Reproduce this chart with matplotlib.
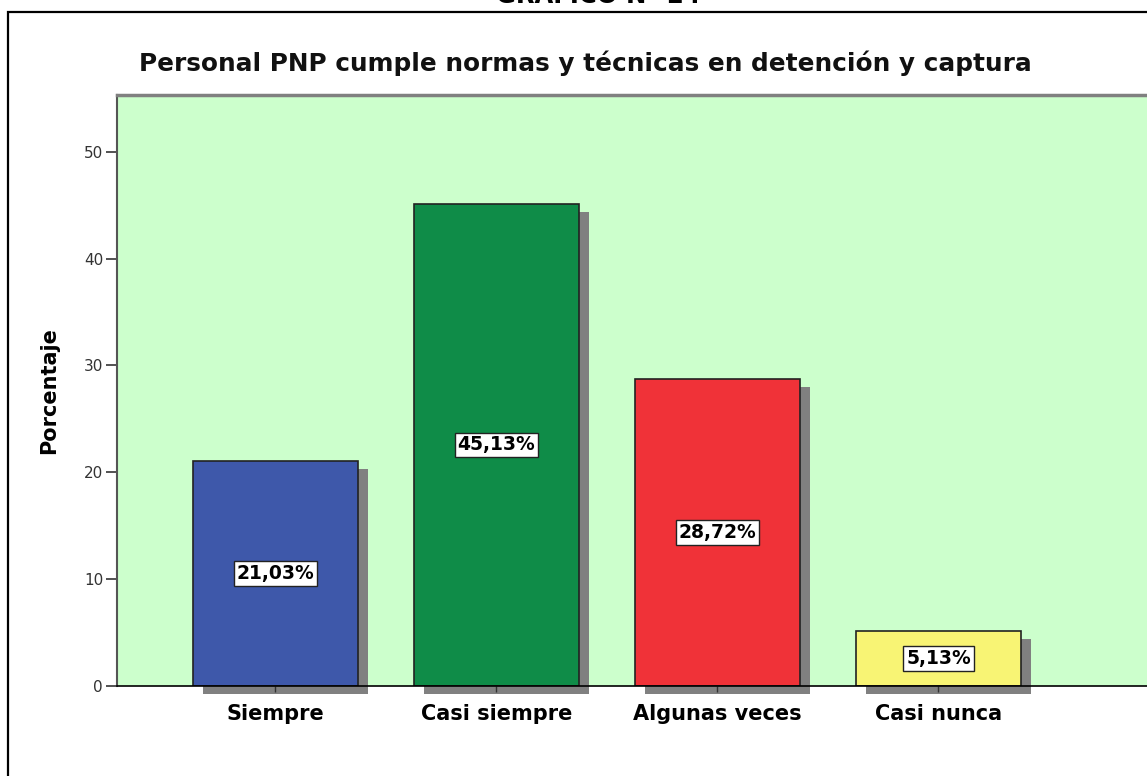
import matplotlib
matplotlib.use("Agg")
import matplotlib.pyplot as plt
from matplotlib.patches import Rectangle
from matplotlib.transforms import offset_copy

categories = ["Siempre", "Casi siempre", "Algunas veces", "Casi nunca"]
values = [21.03, 45.13, 28.72, 5.13]
labels = ["21,03%", "45,13%", "28,72%", "5,13%"]
colors = ["#3E58AA", "#0F8C48", "#F03238", "#F8F474"]
yticks = [0, 10, 20, 30, 40, 50]
title = "Personal PNP cumple normas y técnicas en detención y captura"
top_title = "GRÁFICO N° 24"

W, H = 1147, 776
fig = plt.figure(figsize=(W / 100, H / 100), dpi=100)
fig.patch.set_facecolor("white")
font = "DejaVu Sans"

# outer frame
fig.add_artist(Rectangle((8 / W, -0.1), 1.2, 1 - 12 / H + 0.1, transform=fig.transFigure,
                         fill=False, edgecolor="black", linewidth=1.6, clip_on=False))
fig.text(598 / W, 1 - 3 / H, top_title, ha="center", va="baseline", fontsize=17.5,
         fontweight="bold", family=font)
fig.text(585 / W, 1 - 63 / H, title, ha="center", va="center", fontsize=17.8,
         fontweight="bold", family=font, color="#111111")

left, right, bottom, top = 117 / W, 1.0, 1 - 686 / H, 1 - 95 / H
ax = fig.add_axes([left, bottom, right - left, top - bottom])
ax.set_facecolor("#CCFFCC")

x = list(range(len(categories)))
width = 0.747
ax.set_xlim(-0.717, (W - 275.5) / 221)
ax.set_ylim(0, 55.3)

shadow_tr = offset_copy(ax.transData, fig=fig, x=10, y=-8, units="dots")
ax.bar(x, values, width, color="#808080", edgecolor="none", transform=shadow_tr,
       clip_on=False, zorder=1)
ax.bar(x, values, width, color=colors, edgecolor="#222222", linewidth=1.2, zorder=2)

for xi, v, lab in zip(x, values, labels):
    ax.text(xi, v / 2, lab, ha="center", va="center", fontsize=13.5, fontweight="bold",
            family=font, zorder=4,
            bbox=dict(boxstyle="square,pad=0.15", facecolor="white", edgecolor="#222222",
                      linewidth=1.0))

ax.set_yticks(yticks)
ax.set_yticklabels([str(t) for t in yticks], fontsize=11, family=font, color="#333333")
ax.set_xticks(x)
ax.set_xticklabels(categories, fontsize=15, fontweight="bold", family=font)
ax.tick_params(axis="y", length=8, width=1.2, color="#333333", pad=2)
ax.tick_params(axis="x", length=4, width=1.0, color="#333333", pad=9)
ax.set_ylabel("Porcentaje", fontsize=15, fontweight="bold", family="Liberation Sans Narrow",
              labelpad=18)

ax.spines["right"].set_visible(False)
ax.spines["top"].set_color("#808080")
ax.spines["top"].set_linewidth(2.5)
ax.spines["left"].set_color("#555555")
ax.spines["left"].set_linewidth(1.5)
ax.spines["bottom"].set_color("black")
ax.spines["bottom"].set_linewidth(1.2)
ax.spines["bottom"].set_zorder(3)

fig.savefig("out.png", dpi=100)
